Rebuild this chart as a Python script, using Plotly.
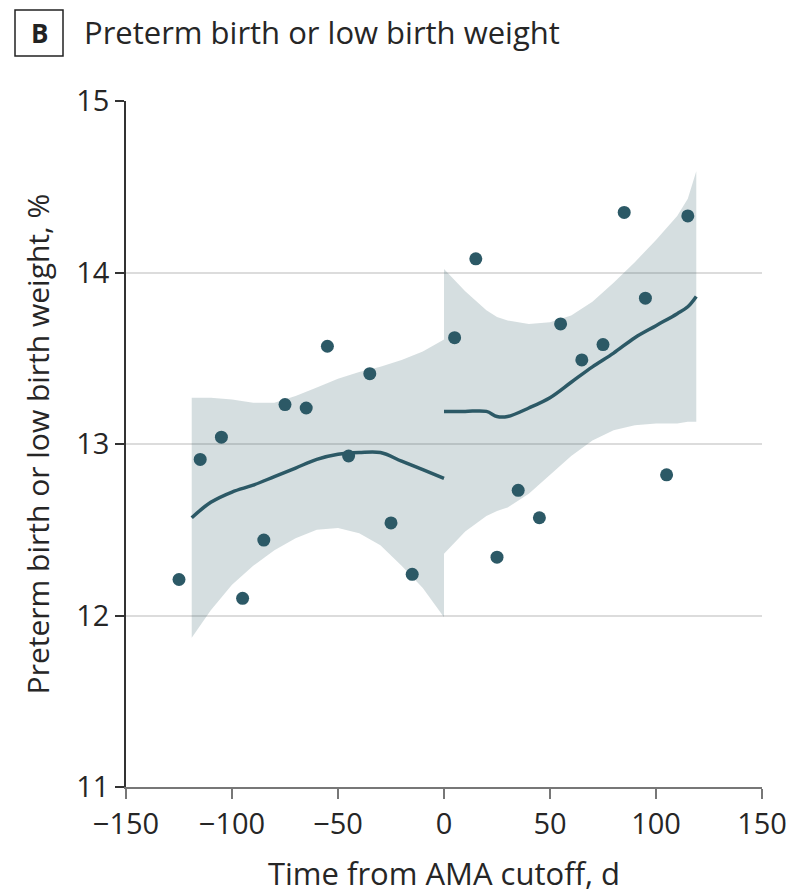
import plotly.graph_objects as go

# ---- data ----
pts_x = [-125, -115, -105, -95, -85, -75, -65, -55, -45, -35, -25, -15,
         5, 15, 25, 35, 45, 55, 65, 75, 85, 95, 105, 115]
pts_y = [12.21, 12.91, 13.04, 12.10, 12.44, 13.23, 13.21, 13.57, 12.93, 13.41, 12.54, 12.24,
         13.62, 14.08, 12.34, 12.73, 12.57, 13.70, 13.49, 13.58, 14.35, 13.85, 12.82, 14.33]

left_x = [-119, -110, -100, -90, -80, -70, -60, -50, -40, -30, -20, -10, 0]
left_fit = [12.57, 12.66, 12.72, 12.76, 12.81, 12.86, 12.91, 12.94, 12.95, 12.95, 12.90, 12.85, 12.80]
left_hi = [13.27, 13.27, 13.26, 13.24, 13.24, 13.28, 13.33, 13.38, 13.42, 13.45, 13.49, 13.54, 13.61]
left_lo = [11.87, 12.03, 12.18, 12.29, 12.38, 12.45, 12.50, 12.51, 12.48, 12.41, 12.29, 12.16, 11.99]

right_x = [0, 10, 20, 25, 30, 40, 50, 60, 70, 80, 90, 100, 110, 115, 119]
right_fit = [13.19, 13.19, 13.19, 13.16, 13.16, 13.21, 13.27, 13.36, 13.45, 13.53, 13.62, 13.69, 13.76, 13.80, 13.86]
right_hi = [14.02, 13.89, 13.78, 13.74, 13.72, 13.70, 13.71, 13.75, 13.83, 13.94, 14.06, 14.19, 14.33, 14.43, 14.59]
right_lo = [12.36, 12.49, 12.58, 12.61, 12.63, 12.71, 12.82, 12.93, 13.02, 13.08, 13.11, 13.12, 13.12, 13.13, 13.13]

x_ticks = [-150, -100, -50, 0, 50, 100, 150]
y_ticks = [11, 12, 13, 14, 15]

title_text = "Preterm birth or low birth weight"
panel_label = "B"
x_title = "Time from AMA cutoff, d"
y_title = "Preterm birth or low birth weight, %"

# ---- style ----
DARK = "#2c5966"
BAND = "rgba(44,89,102,0.2)"
FONT = "Open Sans, Noto Sans, sans-serif"
TXT = "#262626"

fig = go.Figure()
for xs, hi, lo in [(left_x, left_hi, left_lo), (right_x, right_hi, right_lo)]:
    fig.add_trace(go.Scatter(x=xs + xs[::-1], y=hi + lo[::-1], fill="toself",
                             fillcolor=BAND, line=dict(width=0), mode="lines",
                             hoverinfo="skip", showlegend=False))
for xs, fit in [(left_x, left_fit), (right_x, right_fit)]:
    fig.add_trace(go.Scatter(x=xs, y=fit, mode="lines",
                             line=dict(color=DARK, width=3.5, shape="spline"),
                             showlegend=False))
fig.add_trace(go.Scatter(x=pts_x, y=pts_y, mode="markers",
                         marker=dict(color=DARK, size=13), showlegend=False))

L, R, T, B = 126, 32, 101, 107
W, H = 794, 894
pw, ph = W - L - R, H - T - B

def px2paper(px, py):
    return (px - L) / pw, (H - B - py) / ph

fig.update_layout(
    width=W, height=H,
    margin=dict(l=L, r=R, t=T, b=B),
    paper_bgcolor="white", plot_bgcolor="white",
    font=dict(family=FONT, color=TXT, size=28),
    xaxis=dict(range=[-150, 150], tickvals=x_ticks, ticks="outside", ticklen=10,
               tickcolor="#777", tickwidth=1.5, showline=True, linecolor="#777",
               linewidth=1.5, showgrid=False, zeroline=False, automargin=False,
               tickfont=dict(size=29, color=TXT),
               title=dict(text=x_title, font=dict(size=31, color=TXT), standoff=24)),
    yaxis=dict(range=[11, 15], tickvals=y_ticks, ticks="outside", ticklen=9,
               tickcolor="#333", tickwidth=1.5, showline=True, linecolor="#333",
               linewidth=1.5, showgrid=True, gridcolor="#dcdcdc", gridwidth=2,
               zeroline=False, automargin=False, tickfont=dict(size=29, color=TXT),
               title=dict(text=y_title, font=dict(size=30, color=TXT), standoff=18)),
)

bx0, by0 = px2paper(15, 56)
bx1, by1 = px2paper(63, 10)
fig.add_shape(type="rect", xref="paper", yref="paper", x0=bx0, y0=by0, x1=bx1, y1=by1,
              line=dict(color="#222", width=1.5), fillcolor="white")
cx, cy = px2paper(39, 33)
fig.add_annotation(xref="paper", yref="paper", x=cx, y=cy, text="<b>" + panel_label + "</b>",
                   showarrow=False, xanchor="center", yanchor="middle",
                   font=dict(size=26, color="#222", family=FONT))
tx, ty = px2paper(82, 32)
fig.add_annotation(xref="paper", yref="paper", x=tx, y=ty, text=title_text,
                   showarrow=False, xanchor="left", yanchor="middle",
                   font=dict(size=31, color=TXT, family=FONT))

fig.write_html("out.html")
